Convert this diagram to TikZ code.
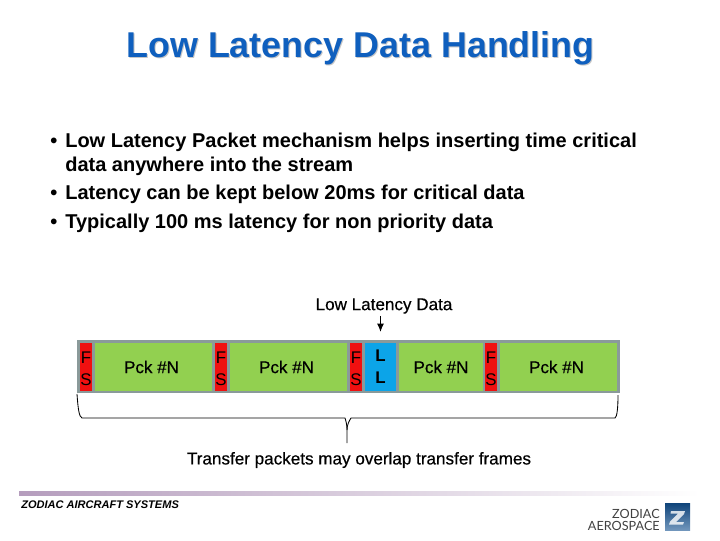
\documentclass[tikz,border=0pt]{standalone}
\usepackage{fontspec}
\usetikzlibrary{arrows.meta}
\setmainfont{Liberation Sans}
\newfontfamily\logofont{Lato}
\newfontfamily\heavyfont[FakeBold=0.5]{Liberation Sans}
\definecolor{titleblue}{HTML}{0F5FBE}
\definecolor{barframe}{HTML}{8A9A9A}
\definecolor{pckgreen}{HTML}{92D050}
\definecolor{fsred}{HTML}{F01010}
\definecolor{llblue}{HTML}{0CA4E8}
\definecolor{footbar}{HTML}{B59DBD}
\definecolor{logoblue}{HTML}{12508F}
\tikzset{
  bodytext/.style={anchor=base west,inner sep=0pt,font=\bfseries\fontsize{14.23}{20}\selectfont},
  pcktext/.style={inner sep=0pt,font=\heavyfont\fontsize{12.15}{14}\selectfont},
  pckbox/.style={fill=pckgreen,minimum height=34.1pt,inner sep=0pt,font=\heavyfont\fontsize{12.1}{14}\selectfont},
  pckleft/.style={pckbox,execute at begin node=\kern-2.8pt},
  fsbox/.style={fill=fsred,minimum width=8.5pt,minimum height=34.1pt,inner sep=0pt,text width=8.5pt,align=center,font=\fontsize{12}{15.6}\selectfont,execute at begin node=\rule{0pt}{11.4pt}},
  llbox/.style={fill=llblue,minimum width=22.5pt,minimum height=34.1pt,inner sep=0pt,align=center,font=\bfseries\fontsize{12}{15.6}\selectfont,execute at begin node=\rule{0pt}{11.4pt}},
}
\begin{document}
\begin{tikzpicture}[x=0.025cm,y=-0.025cm]
  \useasboundingbox (0,0) rectangle (720,540);

  \node[inner sep=0pt,font=\bfseries\fontsize{25.5}{28}\selectfont,text=black!22] (titleshade) at (361.5,49) {Low Latency Data Handling};
  \node[inner sep=0pt,font=\bfseries\fontsize{25.5}{28}\selectfont,text=titleblue] (title) at (360.5,48) {Low Latency Data Handling};

  \node[bodytext] (dota) at (50,147) {•};
  \node[bodytext] (linea) at (65,147) {Low Latency Packet mechanism helps inserting time critical};
  \node[bodytext] (lineb) at (65,171) {data anywhere into the stream};
  \node[bodytext] (dotc) at (50,199) {•};
  \node[bodytext] (linec) at (65,199) {Latency can be kept below 20ms for critical data};
  \node[bodytext] (dotd) at (50,228) {•};
  \node[bodytext] (lined) at (65,228) {Typically 100 ms latency for non priority data};

  \node[pcktext] (lowdata) at (384,306) {Low Latency Data};

  \fill[barframe] (77,340) rectangle (620,393); %frame
  \node[fsbox] (fsa) at (86,367) {F\\S};
  \node[pckleft,minimum width=83.2pt] (pcka) at (153.5,367) {Pck \#N};
  \node[fsbox] (fsb) at (221,367) {F\\S};
  \node[pckleft,minimum width=83.2pt] (pckb) at (288.5,367) {Pck \#N};
  \node[fsbox] (fsc) at (356,367) {F\\S};
  \node[llbox] (ll) at (380.5,367) {L\\L};
  \node[pckbox,minimum width=59.7pt] (pckc) at (441,367) {Pck \#N};
  \node[fsbox] (fsd) at (491,367) {F\\S};
  \node[pckleft,minimum width=83.2pt] (pckd) at (558.5,367) {Pck \#N};

  \draw[-{Latex[length=6pt,width=5pt]},line width=1pt,shorten >=7.6pt] (lowdata.south -| ll.north) ++(0,2) -- (ll.north);

  \coordinate (bracea) at (77,394);
  \coordinate (braceb) at (618,395);
  \coordinate (bracetip) at (347,443);
  \draw[semithick] (bracea) .. controls (78,408) and (79,417) .. (82,418) -- (345,418)
    .. controls (346,421) and (347,425) .. (347,430) -- (bracetip);
  \draw[semithick] (braceb) .. controls (618,408) and (617,417) .. (615,418) -- (351,418)
    .. controls (349,421) and (347,425) .. (347,430);

  \node[pcktext] (overlap) at (359,460) {Transfer packets may overlap transfer frames};

  \shade[left color=footbar,right color=white] (19,491) rectangle (700,495); %footer bar
  \node[inner sep=0pt,anchor=west,font=\bfseries\itshape\fontsize{7.85}{9}\selectfont] (company) at (21,504.5) {ZODIAC AIRCRAFT SYSTEMS};

  \node[inner sep=0pt,anchor=east,text=black!75,font=\logofont\fontsize{9}{10}\selectfont] (logoa) at (660,513.5) {ZODIAC};
  \node[inner sep=0pt,anchor=east,text=black!75,font=\logofont\fontsize{9}{10}\selectfont] (logob) at (660,525.5) {AEROSPACE};
  \shade[shading angle=135,top color=logoblue!85!black,bottom color=logoblue!60] (665,503) rectangle (690,530);
  \fill[white,opacity=.8] (671,511) -- (685,511) -- (684,514) -- (676,522) -- (684,522) -- (683,524.5) -- (669,524.5) -- (670,521.5) -- (678,513.5) -- (670.5,513.5) -- cycle;
\end{tikzpicture}
\end{document}
